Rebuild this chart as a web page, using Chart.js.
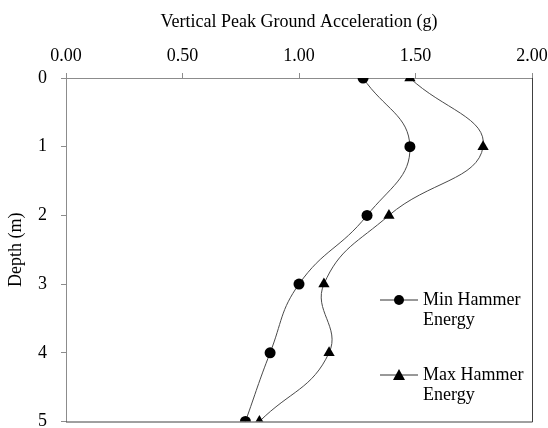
<!DOCTYPE html>
<html>
<head>
<meta charset="utf-8">
<script src="https://cdn.jsdelivr.net/npm/chart.js@4"></script>
<style>
  html, body { margin: 0; padding: 0; background: #fff; }
  #wrap { width: 548px; height: 428px; }
</style>
</head>
<body>
<div id="wrap"><canvas id="chart" width="548" height="428"></canvas></div>
<script>
const depths = [0, 1, 2, 3, 4, 5];
const minEnergy = [1.275, 1.476, 1.292, 1.0, 0.876, 0.77];
const maxEnergy = [1.476, 1.79, 1.386, 1.107, 1.129, 0.83];
const seriesNames = ['Min Hammer Energy', 'Max Hammer Energy'];
const xTitle = 'Vertical Peak Ground Acceleration (g)';
const yTitle = 'Depth (m)';

const FONT = "'Liberation Serif', 'Times New Roman', serif";
const FSIZE = 18;
const AXIS = '#8c8c8c';

function toPoints(vals) {
  return vals.map((v, i) => ({ x: v, y: depths[i] }));
}

// legend drawn inside the plot, two lines per entry like the original
const insideLegend = {
  id: 'insideLegend',
  afterDraw(chart) {
    const ctx = chart.ctx;
    const a = chart.chartArea;
    ctx.save();
    // right and bottom frame
    ctx.strokeStyle = '#404040';
    ctx.lineWidth = 1;
    ctx.beginPath();
    ctx.moveTo(a.right + 0.5, a.top);
    ctx.lineTo(a.right + 0.5, a.bottom + 0.5);
    ctx.lineTo(a.left, a.bottom + 0.5);
    ctx.stroke();

    const rows = [a.top + 222, a.top + 297];
    chart.data.datasets.forEach((ds, i) => {
      const y = rows[i];
      const x0 = a.right - 152;
      ctx.strokeStyle = '#333';
      ctx.lineWidth = 1;
      ctx.beginPath();
      ctx.moveTo(x0, y);
      ctx.lineTo(x0 + 38, y);
      ctx.stroke();
      ctx.fillStyle = '#000';
      ctx.beginPath();
      if (ds.pointStyle === 'triangle') {
        ctx.moveTo(x0 + 19, y - 6);
        ctx.lineTo(x0 + 25, y + 5);
        ctx.lineTo(x0 + 13, y + 5);
        ctx.closePath();
      } else {
        ctx.arc(x0 + 19, y, 5, 0, Math.PI * 2);
      }
      ctx.fill();
      const words = ds.label.split(' ');
      ctx.font = FSIZE + 'px ' + FONT;
      ctx.textBaseline = 'middle';
      ctx.textAlign = 'left';
      ctx.fillText(words.slice(0, 2).join(' '), x0 + 43, y);
      ctx.fillText(words.slice(2).join(' '), x0 + 43, y + 20);
    });
    ctx.restore();
  }
};

new Chart(document.getElementById('chart'), {
  type: 'line',
  data: {
    datasets: [
      {
        label: seriesNames[0],
        data: toPoints(minEnergy),
        borderColor: '#4a4a4a',
        borderWidth: 1,
        backgroundColor: '#000',
        pointStyle: 'circle',
        pointRadius: 5.5,
        pointBorderWidth: 0,
        tension: 0.45,
        fill: false
      },
      {
        label: seriesNames[1],
        data: toPoints(maxEnergy),
        borderColor: '#4a4a4a',
        borderWidth: 1,
        backgroundColor: '#000',
        pointStyle: 'triangle',
        pointRadius: 6.5,
        pointBorderWidth: 0,
        tension: 0.45,
        fill: false
      }
    ]
  },
  options: {
    responsive: false,
    animation: false,
    layout: { padding: { left: 0, top: 0, right: 16, bottom: 6 } },
    plugins: {
      legend: { display: false },
      tooltip: { enabled: false }
    },
    scales: {
      x: {
        type: 'linear',
        position: 'top',
        min: 0,
        max: 2,
        ticks: {
          stepSize: 0.5,
          color: '#000',
          padding: 6,
          font: { family: FONT, size: FSIZE },
          callback: v => v.toFixed(2)
        },
        grid: { drawOnChartArea: false, color: AXIS, tickLength: 5 },
        border: { color: AXIS },
        title: {
          display: true,
          text: xTitle,
          color: '#000',
          font: { family: FONT, size: FSIZE },
          padding: { top: 11, bottom: 4 }
        },
        afterFit(scale) {
          scale.height = 78;
          scale.paddingLeft = 0;
          scale.paddingRight = 0;
        }
      },
      y: {
        type: 'linear',
        reverse: true,
        min: 0,
        max: 5,
        ticks: {
          stepSize: 1,
          color: '#000',
          padding: 14,
          font: { family: FONT, size: FSIZE }
        },
        grid: { drawOnChartArea: false, color: AXIS, tickLength: 5 },
        border: { color: AXIS },
        title: {
          display: true,
          text: yTitle,
          color: '#000',
          font: { family: FONT, size: FSIZE },
          padding: { top: 5, bottom: 4 }
        },
        afterFit(scale) {
          scale.width = 66;
          scale.paddingTop = 0;
          scale.paddingBottom = 0;
        }
      }
    }
  },
  plugins: [insideLegend]
});
</script>
</body>
</html>
